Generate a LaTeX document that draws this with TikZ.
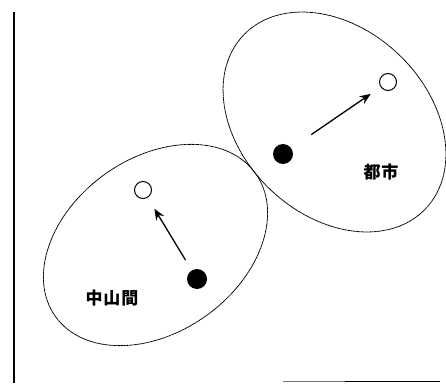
\documentclass[tikz,border=0pt]{standalone}
\usepackage{fontspec}
\newfontfamily\cjk{Noto Sans CJK JP}
\usetikzlibrary{arrows.meta}
\begin{document}
\begin{tikzpicture}[x=1pt,y=1pt,
  region/.style={draw=black, line width=0.8pt, dash pattern=on 1.2pt off 0.4pt},
  fulldot/.style={circle, fill=black, inner sep=0pt, minimum size=20pt},
  opendot/.style={circle, draw=black, line width=1pt, fill=white, inner sep=0pt, minimum size=17pt},
  move/.style={line width=1.3pt, -{Stealth[length=11pt,width=9pt]}},
  lbl/.style={font=\cjk\bfseries\fontsize{17}{17}\selectfont, inner sep=0pt}]
\useasboundingbox (0,0) rectangle (446,383);
% frame lines
\draw[line width=2pt] (13.5,371) -- (13.5,0);
\draw[line width=0.9pt, black!55] (283,1.5) -- (345,1.5);
\draw[line width=1.6pt] (345,1.5) -- (440,1.5);
% regions
\draw[region, rotate around={35.6:(155.5,138)}] (155.5,138) ellipse [x radius=123, y radius=87];
\draw[region, rotate around={-43.7:(334.5,261)}] (334.5,261) ellipse [x radius=125.8, y radius=93.2];
% city
\node[fulldot] (b1) at (283,229) {};
\node[opendot] (o1) at (388,301) {};
\draw[move, shorten <=24pt, shorten >=12pt] (b1) -- (o1);
\node[lbl] (t1) at (381,211) {都\hspace{1pt}市};
% mountain
\node[fulldot] (b2) at (197,104) {};
\node[opendot] (o2) at (143,193) {};
\draw[move, shorten <=12pt, shorten >=13pt] (b2) -- (o2);
\node[lbl] (t2) at (112,85) {中\hspace{1pt}山\hspace{1pt}間};
\end{tikzpicture}
\end{document}
